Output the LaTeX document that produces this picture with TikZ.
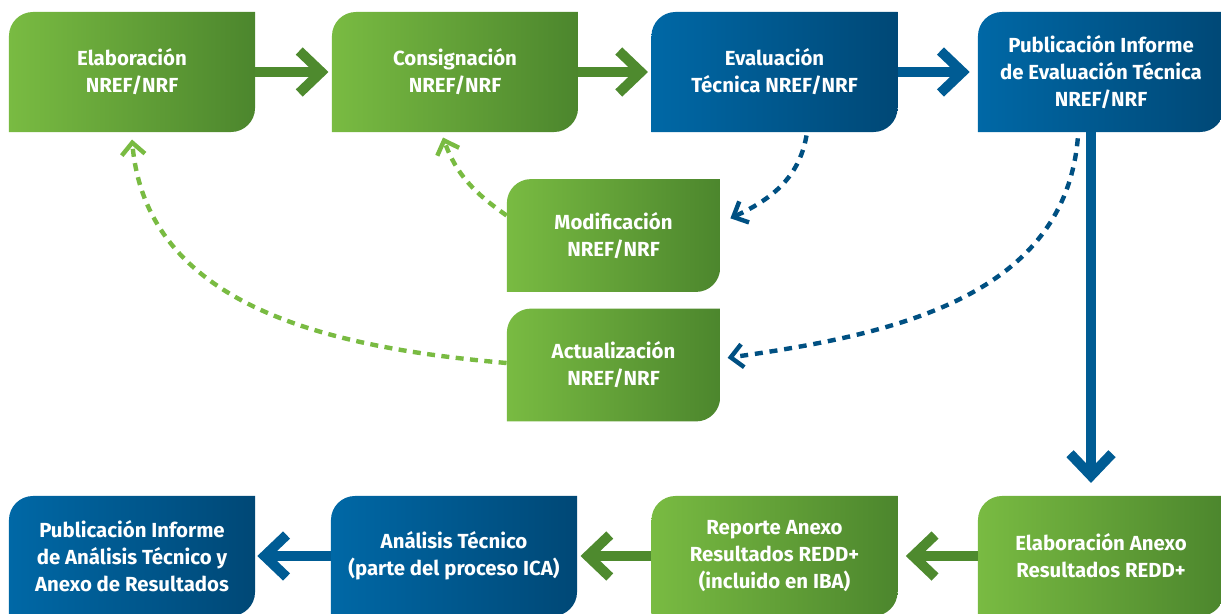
\documentclass[tikz,border=0pt]{standalone}
\usepackage{fontspec}
\setmainfont{Fira Sans}
\usetikzlibrary{arrows.meta}

\definecolor{gl}{RGB}{121,187,66}
\definecolor{gd}{RGB}{76,134,45}
\definecolor{bl}{RGB}{0,104,166}
\definecolor{bd}{RGB}{0,72,118}
\definecolor{garrowc}{RGB}{78,138,46}
\definecolor{barrowc}{RGB}{0,92,148}
\definecolor{gdashc}{RGB}{121,187,66}
\definecolor{bdashc}{RGB}{0,80,130}

\tikzset{
  box/.style 2 args={
    minimum width=6.15cm, minimum height=3cm, inner sep=0pt,
    text=white, align=center,
    font=\bfseries\fontsize{14.5}{19.3}\selectfont,
    path picture={
      \shade[left color=#1, right color=#2]
        (path picture bounding box.south west)
        -- ([yshift=-0.6cm]path picture bounding box.north west)
        arc[start angle=180, end angle=90, radius=0.6cm]
        -- (path picture bounding box.north east)
        -- ([yshift=0.6cm]path picture bounding box.south east)
        arc[start angle=0, end angle=-90, radius=0.6cm]
        -- cycle;
    }
  },
  greenbox/.style={box={gl}{gd}},
  bluebox/.style={box={bl}{bd}},
  smallbox/.style={minimum width=5.33cm, minimum height=2.82cm},
  garrow/.style={draw=garrowc, line width=0.25cm,
    -{Straight Barb[length=0.55cm, width=1.05cm]}, shorten >=0.08cm},
  barrow/.style={draw=barrowc, line width=0.25cm,
    -{Straight Barb[length=0.55cm, width=1.05cm]}, shorten >=0.2cm},
  gdash/.style={draw=gdashc, line width=0.11cm, dash pattern=on 0.2cm off 0.16cm,
    -{Straight Barb[length=0.3cm, width=0.58cm]}},
  bdash/.style={draw=bdashc, line width=0.11cm, dash pattern=on 0.2cm off 0.17cm,
    -{Straight Barb[length=0.3cm, width=0.58cm]}}
}

\begin{document}
\begin{tikzpicture}[x=0.025cm, y=0.025cm]
  \useasboundingbox (0,0) rectangle (1221,-613);

  % top row
  \node[greenbox] (elab) at (132,-72) {Elaboración\\NREF/NRF};
  \node[greenbox] (consig) at (455,-72) {Consignación\\NREF/NRF};
  \node[bluebox] (eval) at (774.5,-72) {Evaluación\\Técnica NREF/NRF};
  \node[bluebox] (pubeval) at (1101,-72) {Publicación Informe\\de Evaluación Técnica\\NREF/NRF};

  % middle
  \node[greenbox, smallbox] (modif) at (613.5,-235.5) {Modificación\\NREF/NRF};
  \node[greenbox, smallbox] (actual) at (613.5,-365) {Actualización\\NREF/NRF};

  % bottom row
  \node[bluebox] (pubanal) at (132,-556) {Publicación Informe\\de Análisis Técnico y\\Anexo de Resultados};
  \node[bluebox] (analisis) at (454,-556) {Análisis Técnico\\(parte del proceso ICA)};
  \node[greenbox] (reporte) at (774.5,-556) {Reporte Anexo\\Resultados REDD+\\(incluido en IBA)};
  \node[greenbox] (anexo) at (1101,-556) {Elaboración Anexo\\Resultados REDD+};

  % main flow
  \draw[garrow] (elab) -- (consig);
  \draw[garrow] (consig) -- (eval);
  \draw[barrow] (eval) -- (pubeval);
  \draw[barrow, shorten >=0.32cm] ([xshift=-0.25cm]pubeval.south) -- ([xshift=-0.25cm]anexo.north);
  \draw[garrow, shorten >=0.2cm] (anexo) -- (reporte);
  \draw[garrow] (reporte) -- (analisis);
  \draw[barrow, shorten >=0.05cm] (analisis) -- (pubanal);

  % feedback loops
  \draw[bdash] ([xshift=0.8cm, yshift=-0.08cm]eval.south) to[out=-100, in=25] ([xshift=0.25cm, yshift=0.43cm]modif.east);
  \draw[bdash] ([xshift=-0.58cm, yshift=-0.15cm]pubeval.south) to[out=-95, in=8] ([xshift=0.18cm, yshift=0.18cm]actual.east);
  \draw[gdash] ([yshift=0.5cm]modif.west) to[out=145, in=-70] ([xshift=-0.3cm, yshift=-0.13cm]consig.south);
  \draw[gdash] ([yshift=0.05cm]actual.west) to[out=175, in=-85] ([yshift=-0.18cm]elab.south);
\end{tikzpicture}
\end{document}
